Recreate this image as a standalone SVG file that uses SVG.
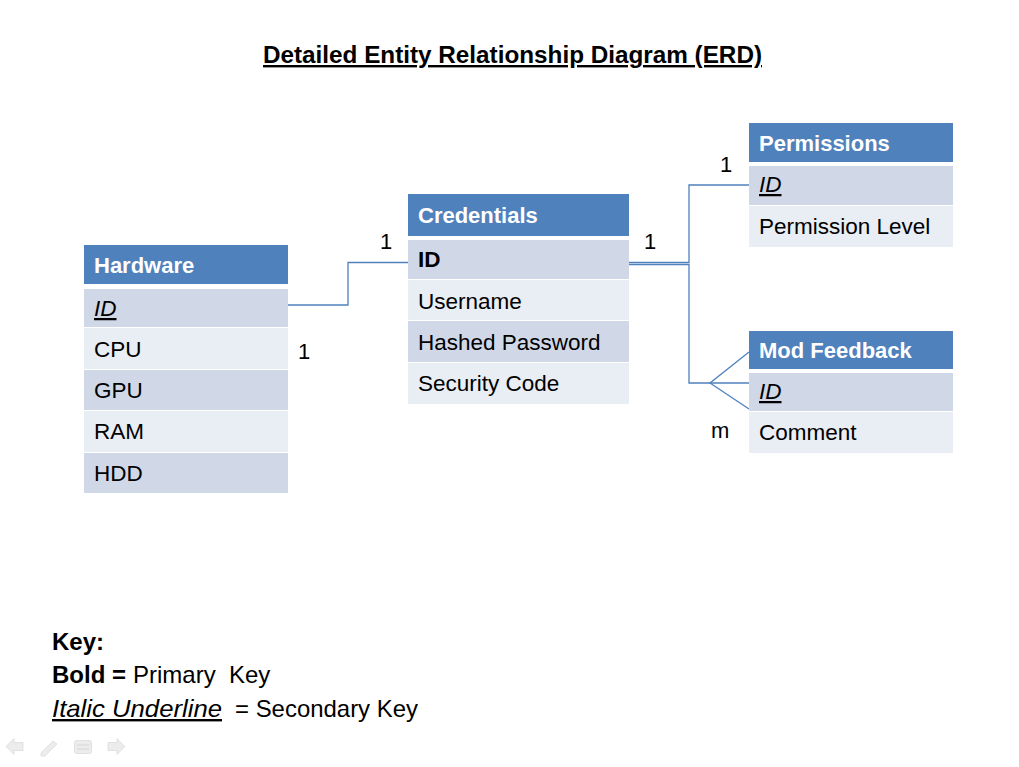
<svg xmlns="http://www.w3.org/2000/svg" width="1019" height="767" viewBox="0 0 1019 767">
<style>
text{font-family:"Liberation Sans",Arial,sans-serif;fill:#000}
.hdr{fill:#4F81BD}
.dk{fill:#D0D8E8}
.lt{fill:#E9EDF4}
.ht{font-size:22px;font-weight:bold;fill:#fff}
.rt{font-size:22.5px}
.lbl{font-size:22px}
.conn{fill:none;stroke:#4F81BD;stroke-width:1.3}
.icon{fill:#ececec;stroke:#dcdcdc;stroke-width:0.8}
</style>
<rect width="1019" height="767" fill="#fff"/>
<text x="263" y="63" font-size="24" font-weight="bold" text-decoration="underline" textLength="499" lengthAdjust="spacingAndGlyphs">Detailed Entity Relationship Diagram (ERD)</text>

<g id="connectors">
<polyline class="conn" points="288,305 348,305 348,262.5 408,262.5"/>
<polyline class="conn" points="629,262.5 689,262.5 689,185 749,185"/>
<polyline class="conn" points="629,264.5 689,264.5 689,383 749,383"/>
<polyline class="conn" points="749,352 710,383 749,409"/>
<text class="lbl" x="380" y="249">1</text>
<text class="lbl" x="298" y="359">1</text>
<text class="lbl" x="644" y="249">1</text>
<text class="lbl" x="720" y="172">1</text>
<text class="lbl" x="711" y="438">m</text>
</g>

<g id="hardware">
<rect class="hdr" x="84" y="245" width="204" height="39"/>
<rect class="dk" x="84" y="289" width="204" height="38"/>
<rect class="lt" x="84" y="328" width="204" height="41"/>
<rect class="dk" x="84" y="370" width="204" height="40"/>
<rect class="lt" x="84" y="411" width="204" height="41"/>
<rect class="dk" x="84" y="453" width="204" height="40"/>
<text class="ht" x="94" y="273">Hardware</text>
<text class="rt" x="94" y="316" font-style="italic" text-decoration="underline">ID</text>
<text class="rt" x="94" y="357">CPU</text>
<text class="rt" x="94" y="398">GPU</text>
<text class="rt" x="94" y="439">RAM</text>
<text class="rt" x="94" y="481">HDD</text>
</g>

<g id="credentials">
<rect class="hdr" x="408" y="194" width="221" height="42"/>
<rect class="dk" x="408" y="240" width="221" height="39"/>
<rect class="lt" x="408" y="280" width="221" height="40"/>
<rect class="dk" x="408" y="321" width="221" height="41"/>
<rect class="lt" x="408" y="363" width="221" height="41"/>
<text class="ht" x="418" y="223">Credentials</text>
<text class="rt" x="418" y="267" font-weight="bold">ID</text>
<text class="rt" x="418" y="309">Username</text>
<text class="rt" x="418" y="350">Hashed Password</text>
<text class="rt" x="418" y="391">Security Code</text>
</g>

<g id="permissions">
<rect class="hdr" x="749" y="123" width="204" height="39"/>
<rect class="dk" x="749" y="166" width="204" height="39"/>
<rect class="lt" x="749" y="206" width="204" height="41"/>
<text class="ht" x="759" y="151">Permissions</text>
<text class="rt" x="759" y="192" font-style="italic" text-decoration="underline">ID</text>
<text class="rt" x="759" y="234">Permission Level</text>
</g>

<g id="modfeedback">
<rect class="hdr" x="749" y="331" width="204" height="38"/>
<rect class="dk" x="749" y="373" width="204" height="38"/>
<rect class="lt" x="749" y="412" width="204" height="41"/>
<text class="ht" x="759" y="358">Mod Feedback</text>
<text class="rt" x="759" y="399" font-style="italic" text-decoration="underline">ID</text>
<text class="rt" x="759" y="440">Comment</text>
</g>

<g id="key">
<text x="52" y="650" font-size="24" font-weight="bold">Key:</text>
<text y="683" font-size="24"><tspan x="52" font-weight="bold">Bold =</tspan><tspan x="133">Primary</tspan><tspan x="229">Key</tspan></text>
<text y="717" font-size="24"><tspan x="52" font-style="italic" text-decoration="underline" textLength="170" lengthAdjust="spacingAndGlyphs">Italic Underline</tspan><tspan x="235" textLength="183" lengthAdjust="spacingAndGlyphs">= Secondary Key</tspan></text>
</g>

<g id="nav">
<polygon class="icon" points="6,746.5 14,738.5 14,742.5 23,742.5 23,750.5 14,750.5 14,754.5"/>
<polygon class="icon" points="41,753 53,741 57,744 45,756 41,756"/>
<rect class="icon" x="74.5" y="740.5" width="17" height="13" rx="2"/>
<line x1="77" y1="745" x2="89" y2="745" stroke="#d6d6d6"/>
<line x1="77" y1="749" x2="89" y2="749" stroke="#d6d6d6"/>
<polygon class="icon" points="125,746.5 117,738.5 117,742.5 108,742.5 108,750.5 117,750.5 117,754.5"/>
</g>
</svg>
